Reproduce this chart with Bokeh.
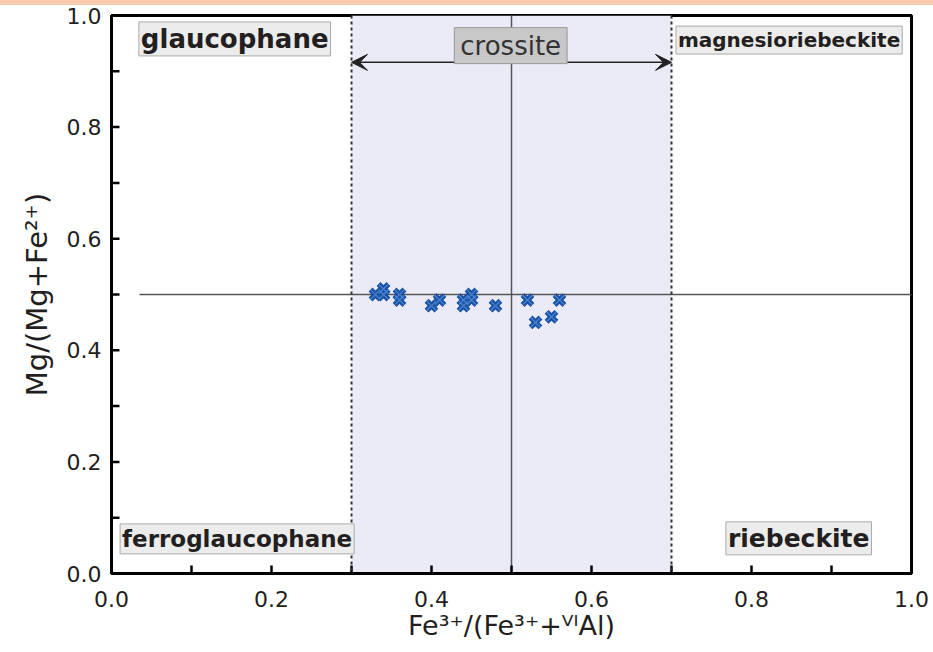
from bokeh.plotting import figure
from bokeh.models import (Label, Span, Arrow, VeeHead, BoxAnnotation, Div,
                          SingleIntervalTicker, Range1d, ColumnDataSource,
                          PrintfTickFormatter)
from bokeh.layouts import column
from bokeh.embed import file_html
from bokeh.resources import INLINE

# ---- data ----
x_vals = [0.33, 0.34, 0.34, 0.36, 0.36, 0.40, 0.41, 0.44, 0.44, 0.45, 0.45,
          0.48, 0.52, 0.53, 0.55, 0.56]
y_vals = [0.50, 0.51, 0.50, 0.50, 0.49, 0.48, 0.49, 0.49, 0.48, 0.50, 0.49,
          0.48, 0.49, 0.45, 0.46, 0.49]
field_names = ["glaucophane", "magnesioriebeckite", "ferroglaucophane", "riebeckite"]
field_x = [0.154, 0.847, 0.157, 0.859]
field_y = [0.958, 0.956, 0.062, 0.063]
crossite_bounds = [0.3, 0.7]
tick_positions = [0.1, 0.2, 0.3, 0.4, 0.5, 0.6, 0.7, 0.8, 0.9]
x_label = "Fe³⁺/(Fe³⁺+ⱽᴵAl)"
y_label = "Mg/(Mg+Fe²⁺)"

FONT = "DejaVu Sans"
FRAME_W, FRAME_H = 800, 558
TICK_LEN = 8

p = figure(width=933, height=647, output_backend="svg", toolbar_location=None,
           x_range=Range1d(0, 1), y_range=Range1d(0, 1),
           min_border_left=111, min_border_right=22, min_border_top=10,
           min_border_bottom=79)
p.grid.visible = False
p.outline_line_color = "black"
p.outline_line_width = 3
p.background_fill_color = "white"
p.border_fill_color = "white"

# crossite band
p.add_layout(BoxAnnotation(left=crossite_bounds[0], right=crossite_bounds[1],
                           fill_color="#ebebf7", fill_alpha=1.0, line_alpha=0,
                           level="underlay"))
for xb in crossite_bounds:
    p.add_layout(Span(location=xb, dimension="height", line_color="#333333",
                      line_width=2, line_dash="3 3"))

# centre lines
p.segment(x0=[0.5], y0=[0.0], x1=[0.5], y1=[1.0], line_color="#555555", line_width=1.5)
p.segment(x0=[0.035], y0=[0.5], x1=[1.0], y1=[0.5], line_color="#555555", line_width=1.5)

# inward tick marks (left and bottom)
tx = TICK_LEN / FRAME_W
ty = TICK_LEN / FRAME_H
p.segment(x0=tick_positions, y0=[0] * len(tick_positions), x1=tick_positions,
          y1=[ty] * len(tick_positions), line_color="black", line_width=2.5)
p.segment(x0=[0] * len(tick_positions), y0=tick_positions, x1=[tx] * len(tick_positions),
          y1=tick_positions, line_color="black", line_width=2.5)

# arrow
for xe in crossite_bounds:
    p.add_layout(Arrow(x_start=0.5, y_start=0.916, x_end=xe, y_end=0.916,
                       line_color="#222222", line_width=1.5,
                       end=VeeHead(size=16, fill_color="#222222", line_color="#222222")))

# data
src = ColumnDataSource(dict(x=x_vals, y=y_vals))
p.scatter("x", "y", source=src, marker="x", size=14, line_color="#1c52a3", line_width=5.5)
p.scatter("x", "y", source=src, marker="x", size=13, line_color="#4a86d6", line_width=1.2)

# field labels
sizes = ["26px", "20px", "23px", "25px"]
for name, fx, fy, fs in zip(field_names, field_x, field_y, sizes):
    p.add_layout(Label(x=fx, y=fy, text=name, text_align="center", text_baseline="middle",
                       text_font=FONT, text_font_style="bold", text_font_size=fs,
                       text_color="#231f20", background_fill_color="#ececec",
                       border_line_color="#aaaaaa", border_line_width=1, padding=2))
p.add_layout(Label(x=0.499, y=0.946, text="crossite", text_align="center",
                   text_baseline="middle", text_font=FONT, text_font_size="26px",
                   text_color="#333333", background_fill_color="#c8c8c8",
                   border_line_color="#999999", border_line_width=1, padding=(6, 3)))

# axes
for ax in (p.xaxis[0], p.yaxis[0]):
    ax.ticker = SingleIntervalTicker(interval=0.2)
    ax.major_tick_in = 0
    ax.major_tick_out = 0
    ax.minor_tick_in = 0
    ax.minor_tick_out = 0
    ax.axis_line_width = 3
    ax.axis_line_color = "black"
    ax.formatter = PrintfTickFormatter(format="%.1f")
    ax.major_label_text_font = FONT
    ax.major_label_text_font_size = "22px"
    ax.major_label_text_color = "#231f20"
    ax.axis_label_text_font = FONT
    ax.axis_label_text_font_style = "normal"
    ax.axis_label_text_color = "#231f20"

p.xaxis[0].axis_label_text_font_size = "27px"
p.yaxis[0].axis_label_text_font_size = "29px"
p.xaxis[0].major_label_standoff = 17
p.yaxis[0].major_label_standoff = 10
p.xaxis[0].axis_label = x_label
p.yaxis[0].axis_label = y_label
p.xaxis[0].axis_label_standoff = 0
p.yaxis[0].axis_label_standoff = 10

bar = Div(text="", width=933, height=5, margin=0,
          styles={"background-color": "#F8CBAA"})
layout = column(bar, p, spacing=0)

open("out.html", "w").write(file_html(layout, INLINE))
